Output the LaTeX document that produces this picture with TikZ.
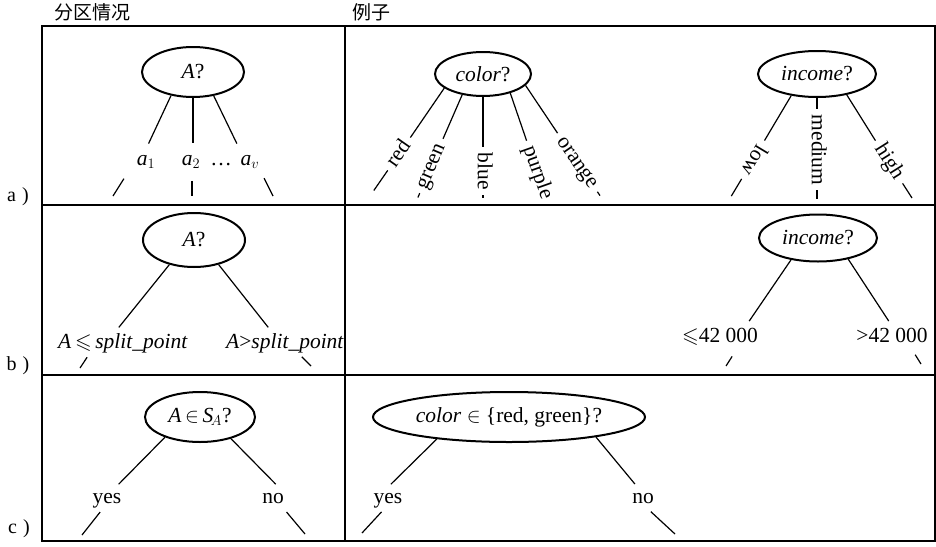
\documentclass[tikz,border=0pt]{standalone}
\usepackage{fontspec}
\usepackage{amssymb}
\setmainfont{Liberation Serif}
\newfontfamily\cjk{Noto Sans CJK SC}
\usetikzlibrary{shapes.geometric}

\begin{document}
\begin{tikzpicture}[x=1pt, y=-1pt,
    every node/.style={font=\fontsize{21.5}{25}\selectfont, inner sep=1pt},
    test/.style={draw, ellipse, line width=2pt, inner sep=0pt},
    lab/.style={text height=15pt, text depth=4.5pt},
    branch/.style={line width=1.2pt},
    gridline/.style={line width=1.3pt}
]
\useasboundingbox (0,0) rectangle (936,546);

% table frame
\draw[gridline] (42,26) rectangle (935,541);
\draw[gridline] (345,26) -- (345,541);
\draw[gridline] (42,205) -- (935,205);
\draw[gridline] (42,375) -- (935,375);

\node[font=\cjk\fontsize{19}{21}\selectfont] (hpart) at (92,12) {分区情况};
\node[font=\cjk\fontsize{19}{21}\selectfont] (hexam) at (371,12) {例子};
\node[font=\fontsize{20}{22}\selectfont] (rowa) at (18,197) {a\hspace{0.3em})};
\node[font=\fontsize{20}{22}\selectfont] (rowb) at (18,366) {b\hspace{0.3em})};
\node[font=\fontsize{20}{22}\selectfont] (rowc) at (19,529) {c\hspace{0.3em})};

% a) discrete values
\node[test, minimum width=102pt, minimum height=50pt] (pa) at (193,72) {\textit{A}?};
\node[lab] (pa1) at (146,160) {\textit{a}$_1$};
\node[lab] (pa2) at (191,160) {\textit{a}$_2$};
\node[lab] (pad) at (221,160) {…};
\node[lab] (pav) at (250,160) {\textit{a}$_v$};
\coordinate (pa1e) at (113,196);
\coordinate (pa2e) at (192,196);
\coordinate (pave) at (273,196);
\draw[branch, shorten >=6pt] (pa.-133) -- (pa1.north);
\draw[branch, shorten >=6pt] (pa.south) -- (pa.south |- pa2.north);
\draw[branch, shorten >=6pt] (pa.-49) -- (pav.north west);
\draw[branch, shorten <=22pt] (pa1.west) -- (pa1e);
\draw[branch, shorten <=10pt] (pa2e |- pa2.south) -- (pa2e);
\draw[branch, shorten <=8pt] (pav.south east) -- (pave);

\node[test, minimum width=96pt, minimum height=44pt] (pc) at (483,74) {\textit{color}?};
\node[lab, rotate=55] (pcr) at (399.1,154) {red};
\node[lab, rotate=67] (pcg) at (431,166.4) {green};
\node[lab, rotate=-90] (pcb) at (483,171.3) {blue};
\node[lab, rotate=-70.5] (pcp) at (537.5,172.5) {purple};
\node[lab, rotate=-55.5] (pco) at (577.3,162.6) {orange};
\coordinate (pcre) at (373.8,190.5);
\coordinate (pcge) at (417.9,197.5);
\coordinate (pcbe) at (483,198);
\coordinate (pcoe) at (600,195.6);
\draw[branch, shorten >=5pt] (pc.-160) -- (pcr);
\draw[branch, shorten >=5pt] (pc.-135) -- (pcg);
\draw[branch, shorten >=5pt] (pc.south) -- (pcb);
\draw[branch, shorten >=5pt] (pc.-35) -- (pcp);
\draw[branch, shorten >=5pt] (pc.-15) -- (pco);
\draw[branch, shorten <=5pt] (pcr) -- (pcre);
\draw[branch, shorten <=4pt] (pcg) -- (pcge);
\draw[branch, shorten <=4pt] (pcb) -- (pcbe);
\draw[branch, shorten <=5pt] (pco) -- (pcoe);

\node[test, minimum width=118pt, minimum height=46pt] (pi) at (817,74) {\textit{income}?};
\node[lab, rotate=-121] (pil) at (753.1,159.7) {low};
\node[lab, rotate=-90] (pim) at (817,150) {medium};
\node[lab, rotate=-57.8] (pih) at (888.9,162.1) {high};
\coordinate (pile) at (731.3,196.1);
\coordinate (pime) at (817,199);
\coordinate (pihe) at (912,198);
\draw[branch, shorten >=5pt] (pi.-140) -- (pil);
\draw[branch, shorten >=5pt] (pi.south) -- (pim);
\draw[branch, shorten >=5pt] (pi.-35) -- (pih);
\draw[branch, shorten <=5pt] (pil) -- (pile);
\draw[branch, shorten <=4pt] (pim) -- (pime);
\draw[branch, shorten <=5pt] (pih) -- (pihe);

% b) continuous values
\node[test, minimum width=102pt, minimum height=54pt] (pb) at (194,240) {\textit{A}?};
\node[lab] (pbl) at (123,343) {\textit{A}\,$\leqslant$\,\textit{split\_point}};
\node[lab] (pbr) at (285,343) {\textit{A}>\textit{split\_point}};
\coordinate (pble) at (80,368);
\coordinate (pbre) at (311,366);
\draw[branch, shorten >=6pt] (pb.-135) -- (pbl.126);
\draw[branch, shorten >=6pt] (pb.-45) -- (pbr.140);
\draw[branch, shorten <=4pt] (pbl.-162) -- (pble);
\draw[branch, shorten <=4pt] (pbr.-38) -- (pbre);

\node[test, minimum width=118pt, minimum height=47pt] (pr) at (818,238) {\textit{income}?};
\node[lab] (prl) at (720,337) {$\leqslant$42 000};
\node[lab] (prr) at (892,337) {>42 000};
\coordinate (prle) at (726,366);
\coordinate (prre) at (921,364);
\draw[branch, shorten >=6pt] (pr.-141) -- (prl.23);
\draw[branch, shorten >=6pt] (pr.-35) -- (prr.north);
\draw[branch, shorten <=10pt] (prl.-32) -- (prle);
\draw[branch, shorten <=8pt] (prr.-30) -- (prre);

% c) binary split
\node[test, minimum width=110pt, minimum height=50pt] (ps) at (200,417) {\textit{A}\,$\in$\,\textit{S}$_{\!A}$?};
\node[lab] (psy) at (107,498) {yes};
\node[lab] (psn) at (273,498) {no};
\coordinate (psye) at (82,535);
\coordinate (psne) at (305,534);
\draw[branch, shorten >=4pt] (ps.-150) -- (psy.51);
\draw[branch, shorten >=4pt] (ps.-35) -- (psn.63);
\draw[branch, shorten <=4pt] (psy.-112) -- (psye);
\draw[branch, shorten <=4pt] (psn.-45) -- (psne);

\node[test, inner xsep=-14pt, minimum width=272pt, minimum height=50pt] (pg) at (509,417) {\textit{color}\ $\in$\ \{red, green\}?};
\node[lab] (pgy) at (388,498) {yes};
\node[lab] (pgn) at (643,498) {no};
\coordinate (pgye) at (362,533);
\coordinate (pgne) at (675,534);
\draw[branch, shorten >=4pt] (pg.-163) -- (pgy.north);
\draw[branch, shorten >=4pt] (pg.-13) -- (pgn.117);
\draw[branch, shorten <=4pt] (pgy.-109) -- (pgye);
\draw[branch, shorten <=4pt] (pgn.-66) -- (pgne);
\end{tikzpicture}
\end{document}
